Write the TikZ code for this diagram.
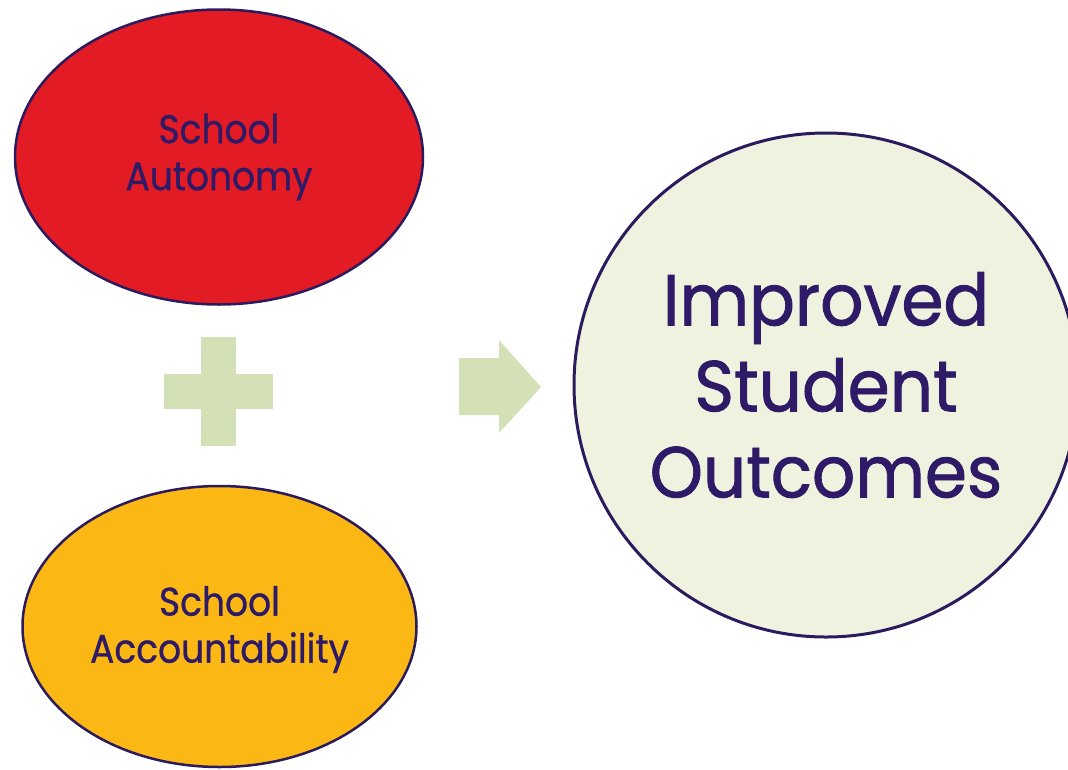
\documentclass[tikz,border=0pt]{standalone}
\usepackage{fontspec}
\setmainfont{Poppins}
\newfontfamily\smallf{Poppins}[FakeStretch=0.9, FakeBold=0.8]
\newfontfamily\bigf{Poppins}[FakeStretch=0.94, FakeBold=1.2]
\usetikzlibrary{shapes.geometric}
\definecolor{navy}{HTML}{2B1A5E}
\definecolor{txt}{HTML}{2E1A66}
\definecolor{redf}{HTML}{E21B24}
\definecolor{yelf}{HTML}{FBB714}
\definecolor{grnf}{HTML}{D4E1B6}
\definecolor{circf}{HTML}{EEF2DF}
\tikzset{
  blob/.style={ellipse, draw=navy, line width=2.5pt, inner sep=0pt},
  lbl/.style={text=txt, align=center, inner sep=0pt, font=\smallf\fontsize{40}{47}\selectfont},
  bigc/.style={circle, draw=navy, line width=3pt, inner sep=0pt, fill=circf},
  biglbl/.style={text=txt, align=center, inner sep=0pt, font=\bigf\fontsize{72}{86}\selectfont},
  sym/.style={fill=grnf}
}
\begin{document}
\begin{tikzpicture}[x=1pt,y=-1pt]
\useasboundingbox (0,0) rectangle (1068,769);
\clip (0,0) rectangle (1068,769);
\node[blob, fill=redf, minimum width=408pt, minimum height=295pt] (auto) at (219,157) {};
\node[lbl] (autot) at (auto.center) {School\\Autonomy};
\node[blob, fill=yelf, minimum width=394pt, minimum height=281pt] (acc) at (219.5,626.5) {};
\node[lbl] (acct) at ([yshift=-3pt]acc.center) {School\\Accountability};
\node[bigc, minimum size=504pt] (out) at (826,385) {};
\node[biglbl] (outt) at (out.center) {Improved\\Student\\Outcomes};
\fill[sym] (164,374) rectangle (273,409);
\fill[sym] (201,337) rectangle (236,446);
\fill[sym] (459,358) -- (499,358) -- (499,340) -- (541,387) -- (499,433) -- (499,415) -- (459,415) -- cycle;
\end{tikzpicture}
\end{document}
